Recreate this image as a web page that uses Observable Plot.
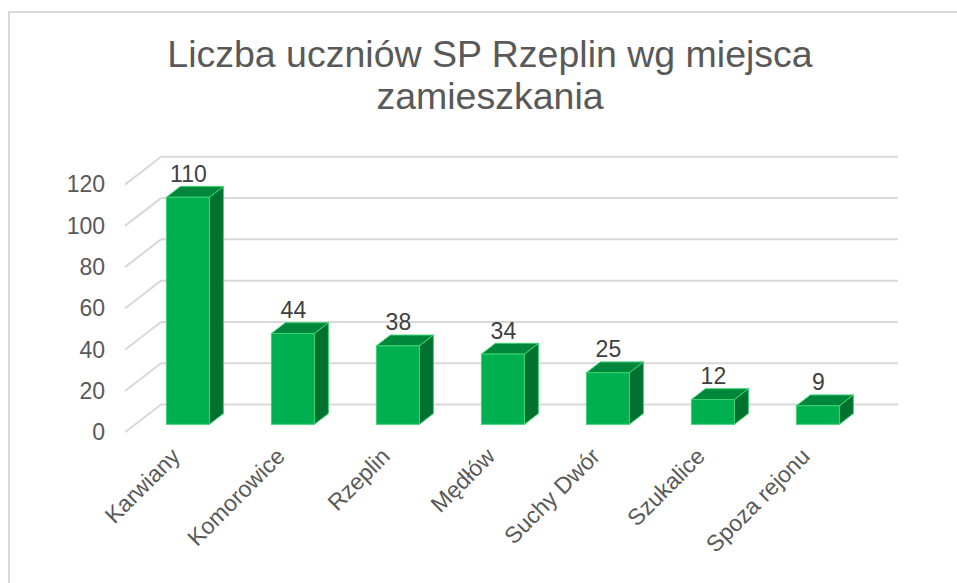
<!DOCTYPE html>
<html>
<head>
<meta charset="utf-8">
<script src="https://cdn.jsdelivr.net/npm/d3@7"></script>
<script src="https://cdn.jsdelivr.net/npm/@observablehq/plot@0.6"></script>
<style>
  html, body { margin: 0; padding: 0; background: #fff; }
  #chart { position: relative; width: 957px; height: 583px; overflow: hidden; font-family: "Liberation Sans", Arial, sans-serif; }
  #frame { position: absolute; left: 8px; top: 11px; width: 1200px; height: 800px; border: 2px solid #d9d9d9; pointer-events: none; z-index: 2; }
  #title { width: 980px; height: 130px; box-sizing: border-box; padding-top: 33px; text-align: center; font-size: 37.5px; line-height: 42px; color: #595959; white-space: nowrap; }
  #plot svg { display: block; }
</style>
</head>
<body>
<div id="chart">
  <div id="title">Liczba uczniów SP Rzeplin wg miejsca<br>zamieszkania</div>
  <div id="plot"></div>
  <div id="frame"></div>
</div>
<script>
// ---- data ----
const categories = ["Karwiany", "Komorowice", "Rzeplin", "Mędłów", "Suchy Dwór", "Szukalice", "Spoza rejonu"];
const values = [110, 44, 38, 34, 25, 12, 9];
const yTicks = [0, 20, 40, 60, 80, 100, 120];

const data = categories.map((name, i) => ({name, value: values[i]}));

// ---- 3D oblique geometry (pixels) ----
const barShift = [10.4, -8];     // front plane -> bar front face
const barDepth = [14, -10.8];    // bar depth
const wallShift = [36.7, -28.3]; // front plane -> back wall

const gridColor = "#d9d9d9";
const frontColor = "#00b050";
const topColor = "#00873c";
const sideColor = "#00712f";
const edgeColor = "#3bd371";

function diagonals(index, scales, channels, dims) {
  const g = d3.create("svg:g");
  const x0 = dims.marginLeft;
  for (const t of yTicks) {
    const y = scales.y(t);
    g.append("line")
      .attr("x1", x0).attr("y1", y)
      .attr("x2", x0 + wallShift[0]).attr("y2", y + wallShift[1])
      .attr("stroke", gridColor).attr("stroke-width", 2);
  }
  return g.node();
}

function faces(index, scales, channels, dims) {
  const g = d3.create("svg:g");
  const bw = scales.x.bandwidth();
  const [ddx, ddy] = barDepth;
  for (const d of data) {
    const xl = scales.x(d.name) + barShift[0];
    const xr = xl + bw;
    const yt = scales.y(d.value) + barShift[1];
    const yb = scales.y(0) + barShift[1];
    g.append("polygon")
      .attr("points", [[xr, yt], [xr + ddx, yt + ddy], [xr + ddx, yb + ddy], [xr, yb]].join(" "))
      .attr("fill", sideColor).attr("stroke", edgeColor).attr("stroke-width", 1).attr("stroke-linejoin", "round");
    g.append("polygon")
      .attr("points", [[xl, yt], [xr, yt], [xr + ddx, yt + ddy], [xl + ddx, yt + ddy]].join(" "))
      .attr("fill", topColor).attr("stroke", edgeColor).attr("stroke-width", 1).attr("stroke-linejoin", "round");
  }
  return g.node();
}

const chart = Plot.plot({
  width: 957,
  height: 453,
  marginLeft: 125,
  marginRight: 95.7,
  marginTop: 54.6,
  marginBottom: 150.7,
  x: {domain: categories, paddingInner: 0.586, paddingOuter: 0.299, align: 0.5, axis: null},
  y: {domain: [0, 120], ticks: yTicks, tickSize: 0, tickPadding: 20.5, label: null, tickFormat: d => String(d)},
  style: {
    fontFamily: "'Liberation Sans', Arial, sans-serif",
    fontSize: "23px",
    color: "#595959",
    background: "transparent",
    overflow: "visible"
  },
  marks: [
    Plot.ruleY(yTicks, {y: d => d, stroke: gridColor, strokeWidth: 2, dx: wallShift[0], dy: wallShift[1]}),
    diagonals,
    faces,
    Plot.barY(data, {x: "name", y: "value", fill: frontColor, stroke: edgeColor, strokeWidth: 1, inset: 0, dx: barShift[0], dy: barShift[1]}),
    Plot.text(data, {x: "name", y: "value", text: d => String(d.value), lineAnchor: "bottom", fill: "#404040", fontSize: 23, dx: barShift[0], dy: barShift[1] - 16}),
    Plot.text(categories, {x: d => d, frameAnchor: "bottom", text: d => d, rotate: -45, textAnchor: "end", lineAnchor: "bottom", fill: "#595959", fontSize: 23, dx: 3.4, dy: 25})
  ]
});
document.getElementById("plot").appendChild(chart);
</script>
</body>
</html>
